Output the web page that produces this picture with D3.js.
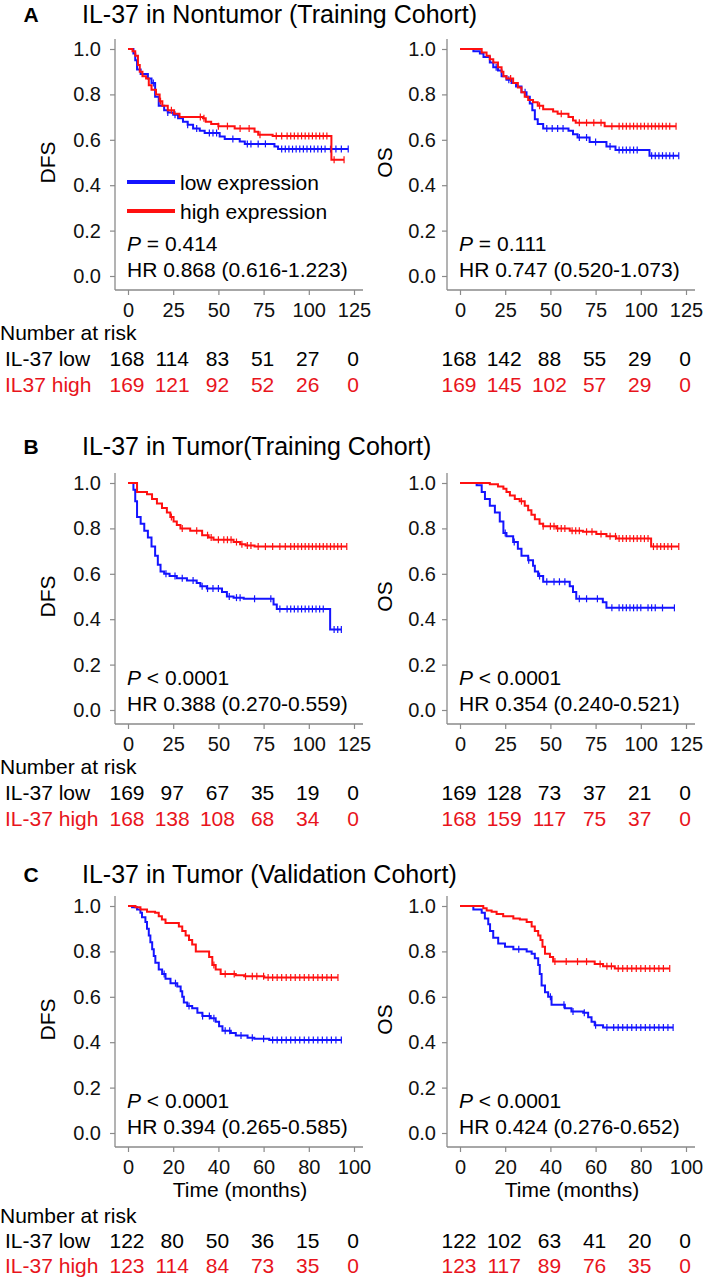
<!DOCTYPE html>
<html>
<head>
<meta charset="utf-8">
<script src="https://cdnjs.cloudflare.com/ajax/libs/d3/7.8.5/d3.min.js"></script>
<style>
body { margin: 0; background: #fff; }
svg { font-family: "Liberation Sans", Arial, sans-serif; }
</style>
</head>
<body>
<script>
// ---- data: step points [time, survival after the drop], censor times ----

// A: Nontumor, training cohort
var aDfsLow = [[3,0.98],[4,0.95],[5,0.91],[7,0.89],[11,0.87],[13,0.85],[15,0.79],[17,0.75],[20,0.73],[22,0.72],[25,0.71],[27.7,0.695],[30.4,0.68],[33,0.666],[36,0.65],[39.7,0.64],[42.4,0.63],[50.7,0.614],[53.5,0.604],[61.8,0.592],[64.6,0.582],[81,0.57],[83,0.559]];
var aDfsHigh = [[2.5,0.99],[4,0.97],[5.5,0.93],[6.5,0.9],[8,0.88],[10,0.87],[11.5,0.84],[13,0.82],[15.5,0.8],[17.5,0.77],[19,0.75],[22,0.73],[25.5,0.715],[28.5,0.7],[41.5,0.695],[43,0.68],[46,0.67],[50,0.66],[59,0.65],[70,0.636],[72,0.622],[80,0.617],[112.5,0.512]];
var aDfsLowCens = [14,22,26,33,38,45,47,49,58,66,68,72,76,85,87,89,91,93,95,97,99,101,103,105,107,109,112,115,118,121.8];
var aDfsHighCens = [18,24,40,42,50,55,62,67,73,82,85,88,90,92,94,96,98,100,102,104,106,108,110,114,119.5];

var aOsLow = [[7.4,0.99],[11,0.98],[13,0.965],[16.5,0.94],[18.4,0.92],[21,0.905],[23,0.88],[25.7,0.865],[28.5,0.85],[31,0.835],[34,0.81],[36.8,0.79],[38.6,0.76],[40,0.73],[41.4,0.69],[43,0.67],[46,0.65],[60,0.64],[62.5,0.625],[65,0.61],[71.7,0.59],[81,0.57],[86,0.555],[104.8,0.53]];
var aOsHigh = [[12,0.985],[14.7,0.97],[16.5,0.955],[18.4,0.94],[21,0.92],[23,0.9],[24,0.88],[25.7,0.87],[29.4,0.85],[32,0.83],[34,0.81],[35.8,0.79],[37.7,0.775],[40.4,0.765],[43,0.75],[46,0.735],[51.5,0.725],[54,0.715],[60,0.7],[62.5,0.685],[64,0.675],[80,0.66]];
var aOsLowCens = [20,27,36,48,51,54,57,66,70,75,83,88,90,92,94,96,98,106,108,110,112,114,116,118,121];
var aOsHighCens = [28,44,56,66,70,74,78,84,88,90,92,94,96,98,100,102,104,106,108,110,112,114,116,119.5];

// B: Tumor, training cohort
var bDfsLow = [[3,0.97],[4,0.92],[5,0.85],[7,0.82],[9,0.79],[11,0.76],[13,0.72],[15,0.68],[16.5,0.64],[18,0.61],[20,0.6],[23,0.59],[27,0.58],[32.6,0.57],[38,0.56],[40,0.545],[43.6,0.535],[52,0.52],[54.7,0.5],[58.4,0.495],[64,0.49],[80.5,0.465],[82.3,0.445],[111.8,0.355]];
var bDfsHigh = [[5,0.96],[10.5,0.95],[13.3,0.93],[16,0.91],[18.8,0.89],[21.5,0.87],[23.4,0.85],[25.2,0.83],[27,0.815],[29,0.8],[34.4,0.79],[41,0.77],[44.6,0.76],[47.3,0.75],[58.4,0.74],[62,0.73],[65,0.725],[70,0.72]];
var bDfsLowCens = [21,26,30,36,41,44,47,50,56,60,62,70,79,84,88,90,92,94,96,98,100,102,104,106,108,114,116,118];
var bDfsHighCens = [24,30,38,44,46,50,53,55,57,60,63,66,68,72,76,80,84,87,90,92,94,96,98,100,102,104,106,108,110,112,114,116,118,121];

var bOsLow = [[9.2,0.99],[12,0.96],[13.8,0.93],[16.5,0.9],[19.3,0.87],[22,0.83],[24,0.78],[25.7,0.765],[29.4,0.74],[32,0.71],[34,0.68],[37.7,0.66],[40.4,0.635],[41.4,0.61],[43.2,0.59],[46,0.565],[60.7,0.545],[62.5,0.52],[64.3,0.49],[79,0.475],[81,0.45]];
var bOsHigh = [[16.5,0.995],[21,0.985],[24,0.975],[25.7,0.96],[27.6,0.945],[30.3,0.93],[33,0.92],[35.8,0.9],[37.7,0.88],[39.5,0.86],[41.4,0.84],[44,0.82],[46,0.81],[53.3,0.8],[60.7,0.79],[68,0.785],[75.4,0.775],[81,0.765],[86.4,0.755],[105.7,0.72]];
var bOsLowCens = [25,30,38,44,48,52,55,58,66,70,76,84,88,90,92,94,96,98,100,104,106,108,112,118.6];
var bOsHighCens = [34,46,50,52,54,56,58,62,64,66,70,73,78,83,86,88,90,92,94,96,98,100,102,104,107,109,111,113,115,117,121];

// C: Tumor, validation cohort
var cDfsLow = [[1.8,0.995],[4,0.985],[5.5,0.97],[6.2,0.95],[7.7,0.93],[8.4,0.9],[9.2,0.87],[9.9,0.84],[10.7,0.81],[11.4,0.78],[12.1,0.75],[13.6,0.72],[15.1,0.7],[16.6,0.68],[18.8,0.66],[21.8,0.645],[23.3,0.625],[24,0.6],[24.7,0.575],[26.2,0.56],[28.4,0.55],[30.7,0.53],[32.9,0.515],[36.6,0.505],[38.8,0.49],[40.3,0.47],[41.8,0.45],[45.5,0.44],[47.7,0.43],[52.9,0.42],[55.9,0.415],[62.5,0.41]];
var cDfsHigh = [[3.3,0.995],[5.5,0.985],[8.4,0.975],[12,0.97],[13.6,0.955],[15,0.94],[16.6,0.925],[22.5,0.91],[24,0.89],[25.5,0.87],[27,0.85],[28.4,0.83],[30,0.8],[35.9,0.775],[37.3,0.74],[38.8,0.72],[41,0.7],[47.7,0.695],[51.4,0.69],[60.3,0.685]];
var cDfsLowCens = [16,21,27,33,36,38,43,45,50,55,60,64,66,68,70,72,74,76,78,80,82,84,86,88,90,92,94.4];
var cDfsHighCens = [38,43,47,52,55,57,60,62,64,66,68,70,72,74,76,78,80,82,84,86,88,90,92.9];

var cOsLow = [[5.9,0.985],[9.6,0.97],[11,0.945],[12.5,0.92],[13.3,0.89],[14.7,0.86],[16.9,0.835],[19.9,0.82],[23.6,0.81],[29.5,0.8],[31.7,0.79],[33.1,0.77],[34.6,0.74],[35.3,0.7],[36.1,0.65],[37.6,0.62],[39,0.6],[40.5,0.565],[46.4,0.55],[49.3,0.535],[54.5,0.53],[56.7,0.51],[58.2,0.49],[59.6,0.475],[63.3,0.465]];
var cOsHigh = [[10.3,0.99],[11.8,0.98],[14,0.975],[16.2,0.965],[19.1,0.955],[23.6,0.945],[26.5,0.94],[29.5,0.93],[31.7,0.91],[33.1,0.89],[34.6,0.87],[35.6,0.85],[36.5,0.82],[37.6,0.79],[39.8,0.775],[41.2,0.755],[59.6,0.745],[63.3,0.735],[68.5,0.725]];
var cOsLowCens = [26,40,46,50,55,60,65,68,70,72,74,76,78,80,82,84,86,88,90,92,94.3];
var cOsHighCens = [42,47,52,56,62,65,67,70,72,74,76,78,80,82,84,86,88,90,92.8];

// axis ticks
var ticksLong = [0, 25, 50, 75, 100, 125];
var ticksShort = [0, 20, 40, 60, 80, 100];
var yTicks = [0, 0.2, 0.4, 0.6, 0.8, 1.0];

// number at risk
var aDfsRiskLow = [168, 114, 83, 51, 27, 0];
var aDfsRiskHigh = [169, 121, 92, 52, 26, 0];
var aOsRiskLow = [168, 142, 88, 55, 29, 0];
var aOsRiskHigh = [169, 145, 102, 57, 29, 0];
var bDfsRiskLow = [169, 97, 67, 35, 19, 0];
var bDfsRiskHigh = [168, 138, 108, 68, 34, 0];
var bOsRiskLow = [169, 128, 73, 37, 21, 0];
var bOsRiskHigh = [168, 159, 117, 75, 37, 0];
var cDfsRiskLow = [122, 80, 50, 36, 15, 0];
var cDfsRiskHigh = [123, 114, 84, 73, 35, 0];
var cOsRiskLow = [122, 102, 63, 41, 20, 0];
var cOsRiskHigh = [123, 117, 89, 76, 35, 0];

// labels
var panelLetters = ["A", "B", "C"];
var panelTitles = ["IL-37 in Nontumor (Training Cohort)", "IL-37 in Tumor(Training Cohort)", "IL-37 in Tumor (Validation Cohort)"];
var pValues = [["= 0.414", "= 0.111"], ["< 0.0001", "< 0.0001"], ["< 0.0001", "< 0.0001"]];
var hrTexts = [["HR 0.868 (0.616-1.223)", "HR 0.747 (0.520-1.073)"],
               ["HR 0.388 (0.270-0.559)", "HR 0.354 (0.240-0.521)"],
               ["HR 0.394 (0.265-0.585)", "HR 0.424 (0.276-0.652)"]];
var highRowLabels = ["IL37 high", "IL-37 high", "IL-37 high"];

// ---- layout ----
var lowColor = "#1414ff",
    highColor = "#ff1010",
    riskRed = "#e8141c",
    axisColor = "#8a8a8a";

var svg = d3.select("body").append("svg")
    .attr("width", 709)
    .attr("height", 1281);

var panelTops = [49, 483, 906];
var titleBase = [23, 455, 883];
var plotLeft = [128, 460];
var plotW = 226, plotH = 227;

var panels = [
    {xmax: 125, ticks: ticksLong, time: false, plots: [
        {ylab: "DFS", low: aDfsLow, high: aDfsHigh, lowC: aDfsLowCens, highC: aDfsHighCens, rLow: aDfsRiskLow, rHigh: aDfsRiskHigh},
        {ylab: "OS", low: aOsLow, high: aOsHigh, lowC: aOsLowCens, highC: aOsHighCens, rLow: aOsRiskLow, rHigh: aOsRiskHigh}]},
    {xmax: 125, ticks: ticksLong, time: false, plots: [
        {ylab: "DFS", low: bDfsLow, high: bDfsHigh, lowC: bDfsLowCens, highC: bDfsHighCens, rLow: bDfsRiskLow, rHigh: bDfsRiskHigh},
        {ylab: "OS", low: bOsLow, high: bOsHigh, lowC: bOsLowCens, highC: bOsHighCens, rLow: bOsRiskLow, rHigh: bOsRiskHigh}]},
    {xmax: 100, ticks: ticksShort, time: true, plots: [
        {ylab: "DFS", low: cDfsLow, high: cDfsHigh, lowC: cDfsLowCens, highC: cDfsHighCens, rLow: cDfsRiskLow, rHigh: cDfsRiskHigh},
        {ylab: "OS", low: cOsLow, high: cOsHigh, lowC: cOsLowCens, highC: cOsHighCens, rLow: cOsRiskLow, rHigh: cOsRiskHigh}]}
];

function survAt(steps, t) {
    var s = 1;
    steps.forEach(function(d) { if (d[0] <= t) s = d[1]; });
    return s;
}

panels.forEach(function(p, pi) {
    var top = panelTops[pi];
    var axisY = top + 241;

    // panel letter and title
    svg.append("text")
        .attr("x", 31).attr("y", titleBase[pi] - 1)
        .attr("text-anchor", "middle")
        .style("font-size", "21px").style("font-weight", "bold")
        .text(panelLetters[pi]);
    svg.append("text")
        .attr("x", 82).attr("y", titleBase[pi])
        .style("font-size", "25px")
        .text(panelTitles[pi]);

    // number at risk header
    var narY = axisY + (p.time ? 68 : 42.5);
    var rowGap = p.time ? 25 : 26;
    svg.append("text").attr("x", 0).attr("y", narY + 7.5)
        .style("font-size", "21px").text("Number at risk");
    svg.append("text").attr("x", 5).attr("y", narY + rowGap + 7.5)
        .style("font-size", "21px").text("IL-37 low");
    svg.append("text").attr("x", 5).attr("y", narY + 2 * rowGap + 7.5)
        .style("font-size", "21px").style("fill", riskRed).text(highRowLabels[pi]);

    p.plots.forEach(function(d, k) {
        var x0 = plotLeft[k];
        var x = d3.scaleLinear().domain([0, p.xmax]).range([x0, x0 + plotW]);
        var y = d3.scaleLinear().domain([0, 1]).range([top + plotH, top]);
        var axisX = x0 - 13;

        // axes
        var g = svg.append("g");
        g.append("line")
            .attr("x1", axisX).attr("x2", axisX)
            .attr("y1", top - 10).attr("y2", axisY)
            .style("stroke", axisColor).style("stroke-width", 1.3);
        g.append("line")
            .attr("x1", axisX).attr("x2", x0 + plotW + 9)
            .attr("y1", axisY).attr("y2", axisY)
            .style("stroke", axisColor).style("stroke-width", 1.3);

        var yAxis = g.append("g")
            .attr("transform", "translate(" + axisX + ",0)")
            .call(d3.axisLeft(y).tickValues(yTicks).tickSize(5).tickPadding(k == 0 ? 9 : 6)
                .tickFormat(d3.format(".1f")));
        var xAxis = g.append("g")
            .attr("transform", "translate(0," + axisY + ")")
            .call(d3.axisBottom(x).tickValues(p.ticks).tickSize(5).tickPadding(8));
        [yAxis, xAxis].forEach(function(a) {
            a.select(".domain").remove();
            a.selectAll(".tick line").style("stroke", axisColor).style("stroke-width", 1.2);
            a.selectAll(".tick text").style("font-size", "20px").style("fill", "#111")
                .style("font-family", "Liberation Sans, Arial, sans-serif");
        });

        // y label
        svg.append("text")
            .attr("transform", "translate(" + (axisX - (k == 0 ? 68 : 63)) + "," + (top + plotH / 2) + ") rotate(-90)")
            .attr("text-anchor", "middle")
            .attr("dy", "0.36em")
            .style("font-size", "21px")
            .text(d.ylab);

        if (p.time) {
            svg.append("text")
                .attr("x", x(p.xmax / 2) - 1).attr("y", axisY + 50)
                .attr("text-anchor", "middle")
                .style("font-size", "21px")
                .text("Time (months)");
        }

        // curves
        var valueline = d3.line()
            .x(function(v) { return x(v[0]); })
            .y(function(v) { return y(v[1]); })
            .curve(d3.curveStepAfter);

        [[d.low, d.lowC, lowColor], [d.high, d.highC, highColor]].forEach(function(s) {
            var steps = s[0], cens = s[1];
            var tEnd = d3.max(cens);
            var pts = [[0, 1]].concat(steps).concat([[tEnd, steps[steps.length - 1][1]]]);
            svg.append("path")
                .attr("d", valueline(pts))
                .style("fill", "none")
                .style("stroke", s[2])
                .style("stroke-width", 2);
            svg.append("g")
                .selectAll("line")
                .data(cens)
                .enter()
                .append("line")
                    .attr("x1", function(c) { return x(c); })
                    .attr("x2", function(c) { return x(c); })
                    .attr("y1", function(c) { return y(survAt(steps, c)) - 3.5; })
                    .attr("y2", function(c) { return y(survAt(steps, c)) + 3.5; })
                    .style("stroke", s[2])
                    .style("stroke-width", 1.2);
        });

        // P value and hazard ratio
        var pt = svg.append("text")
            .attr("x", x0 - 1).attr("y", top + 194 + 7.5)
            .style("font-size", "21px");
        pt.append("tspan").style("font-style", "italic").text("P");
        pt.append("tspan").text(" " + pValues[pi][k]);
        svg.append("text")
            .attr("x", x0 - 1).attr("y", top + 220 + 7.5)
            .style("font-size", "21px")
            .text(hrTexts[pi][k]);

        // number at risk values
        svg.append("g")
            .selectAll("text")
            .data(p.ticks)
            .enter()
            .append("text")
                .attr("x", function(t) { return x(t) - 1; })
                .attr("y", narY + rowGap + 7.5)
                .attr("text-anchor", "middle")
                .style("font-size", "21px")
                .text(function(t, i) { return d.rLow[i]; });
        svg.append("g")
            .selectAll("text")
            .data(p.ticks)
            .enter()
            .append("text")
                .attr("x", function(t) { return x(t) - 1; })
                .attr("y", narY + 2 * rowGap + 7.5)
                .attr("text-anchor", "middle")
                .style("font-size", "21px")
                .style("fill", riskRed)
                .text(function(t, i) { return d.rHigh[i]; });
    });
});

// legend (panel A, DFS)
var legendItems = ["low expression", "high expression"];
var legendColors = [lowColor, highColor];
var legend = svg.append("g");
legendItems.forEach(function(name, i) {
    var ly = panelTops[0] + 133 + i * 29;
    legend.append("line")
        .attr("x1", 127).attr("x2", 175)
        .attr("y1", ly).attr("y2", ly)
        .style("stroke", legendColors[i])
        .style("stroke-width", 4);
    legend.append("text")
        .attr("x", 180).attr("y", ly + 7.5)
        .style("font-size", "21px")
        .text(name);
});
</script>
</body>
</html>
